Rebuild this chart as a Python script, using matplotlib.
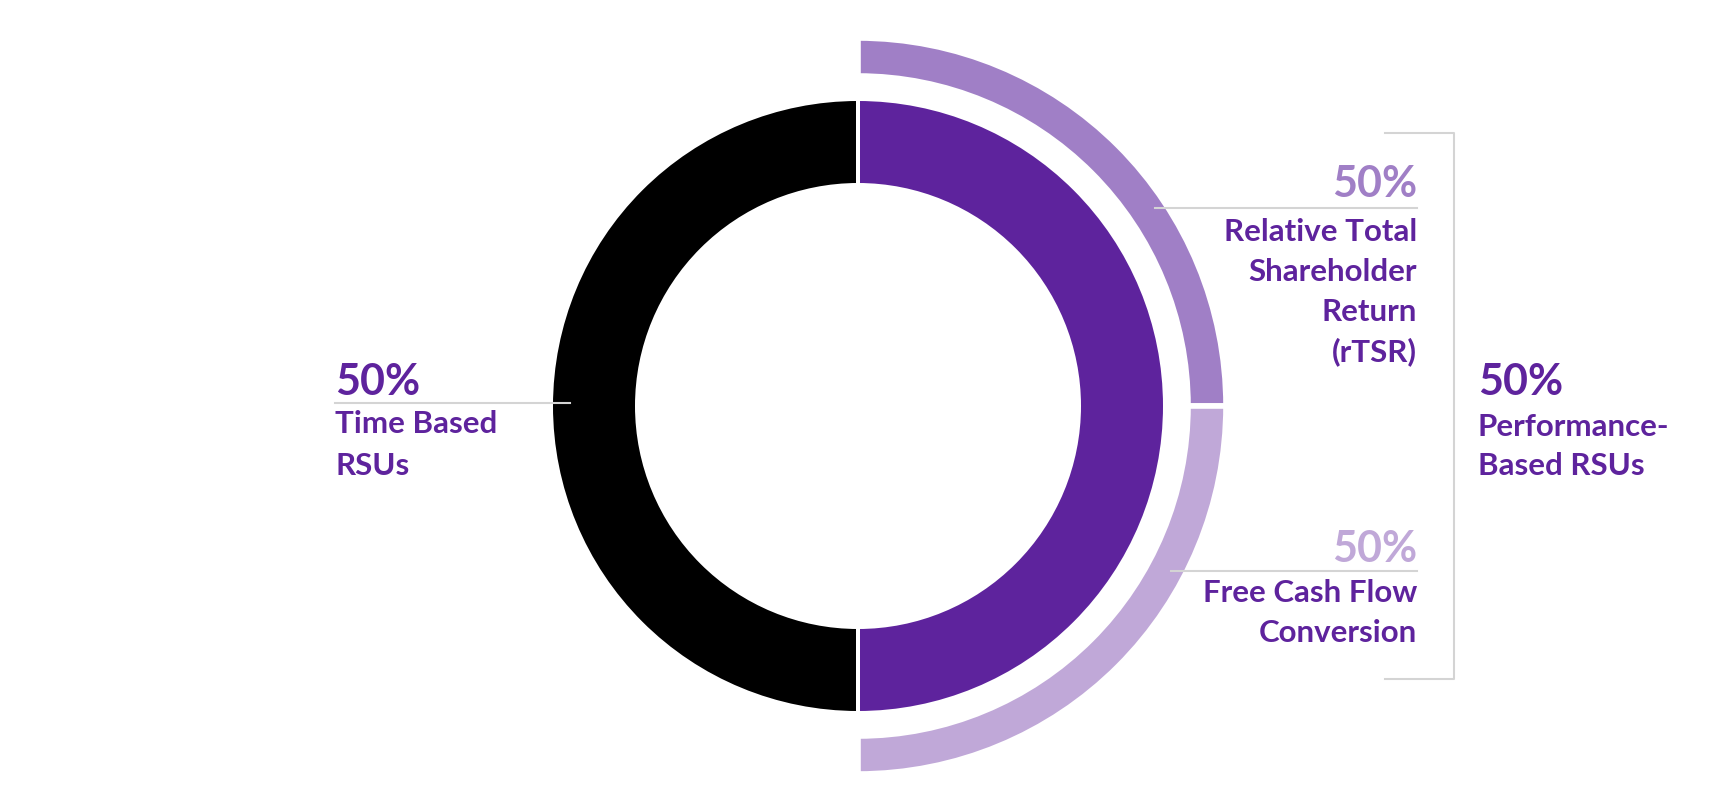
import matplotlib
matplotlib.use("Agg")
import matplotlib.pyplot as plt

# ---- data ----
award_labels = ["Time Based RSUs", "Performance-Based RSUs"]
award_shares = [50, 50]                       # inner ring, % of total
perf_labels = ["Relative Total Shareholder Return (rTSR)", "Free Cash Flow Conversion"]
perf_shares = [50, 50]                        # outer ring, % of performance award

DARK = "#5e239d"
MID = "#a07fc6"
LIGHT = "#c0a8d8"
GRID = "#d4d4d4"
W, H = 1713, 803

plt.rcParams["font.family"] = ["Lato", "DejaVu Sans"]

fig = plt.figure(figsize=(W / 100, H / 100), dpi=100)
ax = fig.add_axes([0, 0, 1, 1])

cx, cy = 858, H - 407
gap = 4 * 72 / 100   # 4px white gap, in points

# inner ring: performance on the right half, time-based on the left
ax.pie(award_shares[::-1], colors=[DARK, "black"], startangle=90, counterclock=False,
       radius=307, center=(cx, cy),
       wedgeprops=dict(width=86, edgecolor="white", linewidth=gap))

# outer ring: split of the performance half, rest left empty
perf_total = award_shares[1]
outer_vals = [perf_total * s / 100 for s in perf_shares] + [award_shares[0]]
wedges, _ = ax.pie(outer_vals, colors=[MID, LIGHT, "white"], startangle=90, counterclock=False,
                   radius=368, center=(cx, cy),
                   wedgeprops=dict(width=38, edgecolor="white", linewidth=gap * 1.4))
wedges[-1].set_visible(False)

ax.set_xlim(0, W)
ax.set_ylim(0, H)
ax.set_aspect("equal")
ax.axis("off")

FS_PCT = 31
FS_LBL = 22.5


def Y(y):
    return H - y


def lines(x, baselines, txt, ha):
    for b, t in zip(baselines, txt):
        ax.text(x, Y(b), t, ha=ha, va="baseline", fontsize=FS_LBL, fontweight="bold", color=DARK)


# left label
ax.text(335, Y(395), f"{award_shares[0]}%", fontsize=FS_PCT, fontweight="bold", color=DARK,
        ha="left", va="baseline")
ax.plot([335, 570], [Y(404), Y(404)], color=GRID, lw=1.5)
lines(335, [433, 475], ["Time Based", "RSUs"], "left")

# rTSR label
ax.text(1417, Y(197), f"{perf_shares[0]}%", fontsize=FS_PCT, fontweight="bold", color=MID,
        ha="right", va="baseline")
ax.plot([1155, 1417], [Y(209), Y(209)], color=GRID, lw=1.5)
lines(1417, [241, 281, 321, 361], ["Relative Total", "Shareholder", "Return", "(rTSR)"], "right")

# FCF label
ax.text(1417, Y(562), f"{perf_shares[1]}%", fontsize=FS_PCT, fontweight="bold", color=LIGHT,
        ha="right", va="baseline")
ax.plot([1171, 1417], [Y(572), Y(572)], color=GRID, lw=1.5)
lines(1417, [602, 642], ["Free Cash Flow", "Conversion"], "right")

# bracket
ax.plot([1385, 1454, 1454, 1385], [Y(134), Y(134), Y(680), Y(680)], color=GRID, lw=1.5)

# performance label
ax.text(1478, Y(395), f"{award_shares[1]}%", fontsize=FS_PCT, fontweight="bold", color=DARK,
        ha="left", va="baseline")
lines(1478, [436, 475], ["Performance-", "Based RSUs"], "left")

fig.savefig("out.png", dpi=100)
